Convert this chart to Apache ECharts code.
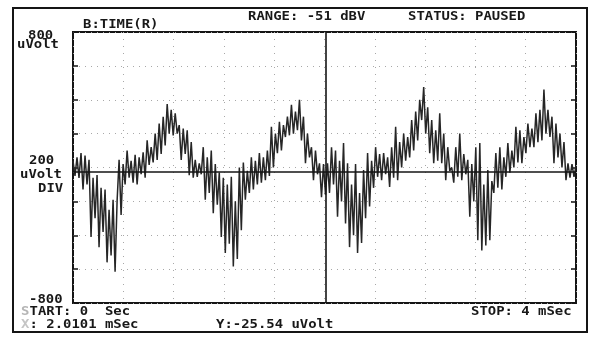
<!DOCTYPE html>
<html><head><meta charset="utf-8">
<script src="https://cdn.jsdelivr.net/npm/echarts@6/dist/echarts.min.js"></script>
<style>html,body{margin:0;padding:0;background:#fff}#c{width:600px;height:347px}</style>
</head><body><div id="c"></div>
<script>
// Trace values in uVolt, equally spaced samples from START (0 ms) to STOP (4 ms)
const traceValues = [
 40,-50,60,-62,85,-130,70,-100,45,-410,
 -60,-300,-45,-470,-120,-380,-130,-560,-250,-520,
 -190,-615,-200,45,-280,20,-100,100,-60,40,
 -90,75,-100,60,-40,90,-60,160,15,120,
 30,200,45,260,80,300,130,375,200,340,
 190,320,200,250,45,230,80,220,-45,150,
 -60,45,-55,25,-40,120,-190,60,-150,100,
 -270,20,-220,-30,-410,-60,-505,-100,-450,-55,
 -585,-200,-540,0,-370,30,-190,-20,-150,60,
 -130,40,-100,85,-90,60,-75,100,-50,240,
 0,200,85,270,100,250,180,300,190,370,
 200,330,220,400,160,300,25,200,60,120,
 -75,100,-40,25,-175,20,-160,25,-150,120,
 -100,100,-290,40,-200,145,-330,25,-470,-100,
 -400,20,-505,-150,-445,-15,-300,85,-230,40,
 -120,120,-55,80,-75,85,-40,60,-115,120,
 -60,240,-75,150,0,200,40,180,60,280,
 100,330,160,400,280,475,200,355,85,280,
 25,220,40,320,25,200,-75,120,-20,0,
 -90,120,-55,200,-75,80,-40,45,-290,20,
 -200,120,-430,145,-490,-100,-460,-15,-430,-80,
 -150,85,-120,120,-130,60,-55,145,-30,100,
 0,240,30,220,25,180,85,260,120,230,
 120,320,150,340,160,460,200,340,180,300,
 25,260,60,200,0,150,-75,25,-60,20,
 -55,10
];
const startMs = 0;
const stopMs = 4;
const xDivisionMs = 0.4;
const yLimits = [-800, 800];
const yDivision = 200;
const cursorXms = 2.0101;
const cursorYuV = -25.54;
const headerLeft = 'B:TIME(R)';
const headerRange = 'RANGE: -51 dBV';
const headerStatus = 'STATUS: PAUSED';
const topLabel = ['800', 'uVolt'];
const midLabel = ['200', 'uVolt', 'DIV'];
const bottomLabel = '-800';
const startText = 'TART: 0  Sec';
const cursorText = ': 2.0101 mSec';
const yCursorText = 'Y:-25.54 uVolt';
const stopText = 'STOP: 4 mSec';

const step = (stopMs - startMs) / (traceValues.length - 1);
const seriesData = traceValues.map((v, i) => [startMs + i * step, v]);

const FONT = '"DejaVu Sans Mono", "Liberation Mono", monospace';
function txt(x, y, text, color) {
  return {
    type: 'text', x: x, y: y, scaleX: 1.16, silent: true,
    style: { text: text, fill: color || '#181818', font: 'bold 12px ' + FONT,
             textAlign: 'left', textVerticalAlign: 'middle' }
  };
}

const chart = echarts.init(document.getElementById('c'), null, { renderer: 'canvas' });
chart.setOption({
  animation: false,
  backgroundColor: '#ffffff',
  grid: { left: 73, right: 24, top: 32, bottom: 44, show: true,
          borderColor: '#151515', borderWidth: 2, backgroundColor: 'transparent' },
  xAxis: {
    type: 'value', min: startMs, max: stopMs, interval: xDivisionMs,
    axisLine: { show: false }, axisTick: { show: false }, axisLabel: { show: false },
    splitLine: { show: true, lineStyle: { color: '#a8a8a8', width: 1, type: [1, 6] } }
  },
  yAxis: [{
    type: 'value', min: yLimits[0], max: yLimits[1], interval: yDivision,
    axisLine: { show: false },
    axisTick: { show: true, inside: true, length: 5, lineStyle: { color: '#151515', width: 1.5 } },
    axisLabel: { show: false },
    splitLine: { show: true, lineStyle: { color: '#a8a8a8', width: 1, type: [1, 5] } }
  }, {
    type: 'value', position: 'right', min: yLimits[0], max: yLimits[1], interval: yDivision,
    axisLine: { show: false },
    axisTick: { show: true, inside: true, length: 5, lineStyle: { color: '#151515', width: 1.5 } },
    axisLabel: { show: false }, splitLine: { show: false }
  }],
  series: [{
    type: 'line', data: seriesData, showSymbol: false, silent: true,
    lineStyle: { color: '#262626', width: 1.5 },
    markLine: {
      silent: true, symbol: 'none', label: { show: false },
      lineStyle: { color: '#151515', width: 1.6, type: 'solid' },
      data: [{ xAxis: cursorXms }, { yAxis: cursorYuV }]
    }
  }],
  graphic: [
    { type: 'rect', silent: true, shape: { x: 13, y: 8, width: 574, height: 324 },
      style: { fill: 'none', stroke: '#151515', lineWidth: 2 } },
    txt(83, 25, headerLeft),
    txt(248, 17, headerRange),
    txt(408, 17, headerStatus),
    txt(28, 36, topLabel[0]),
    txt(17, 45, topLabel[1]),
    txt(29, 161, midLabel[0]),
    txt(20, 175, midLabel[1]),
    txt(38, 189, midLabel[2]),
    txt(29, 300, bottomLabel),
    txt(21, 312, 'S', '#b5b5b5'),
    txt(29.5, 312, startText),
    txt(21, 325, 'X', '#c5c5c5'),
    txt(29.5, 325, cursorText),
    txt(216, 325, yCursorText),
    txt(471, 312, stopText)
  ]
});
</script></body></html>
